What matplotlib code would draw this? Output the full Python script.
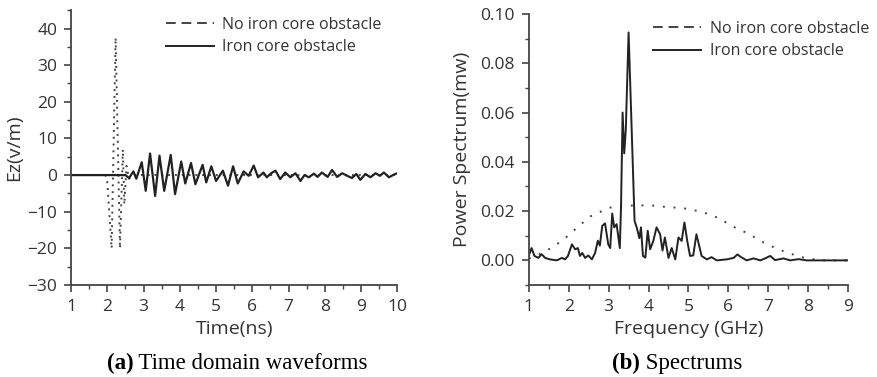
import matplotlib.pyplot as plt
from matplotlib.lines import Line2D
from matplotlib.ticker import MultipleLocator

# (a) time domain, no iron core (pulse)
t_free = [1.0, 1.95, 2.0, 2.12, 2.23, 2.35, 2.43, 2.47, 2.53, 2.6, 2.7, 10.0]
ez_free = [0.0, 0.0, -2.0, -20.0, 37.5, -20.0, 7.0, -8.0, 2.5, -1.0, 0.0, 0.0]

# (a) time domain, iron core obstacle
t_iron = [1.0, 2.5, 2.6, 2.72, 2.8, 2.95, 3.06, 3.18, 3.32, 3.44, 3.57, 3.75, 3.87,
          4.04, 4.15, 4.31, 4.43, 4.63, 4.73, 4.87, 5.0, 5.19, 5.33, 5.47, 5.6,
          5.76, 5.9, 6.04, 6.16, 6.31, 6.4, 6.52, 6.64, 6.77, 6.91, 7.05, 7.19,
          7.33, 7.44, 7.56, 7.7, 7.8, 7.92, 8.08, 8.2, 8.34, 8.48, 8.62, 8.75,
          8.87, 8.98, 9.12, 9.26, 9.4, 9.52, 9.63, 9.77, 9.9, 10.0]
ez_iron = [0.0, 0.0, -0.8, 1.0, -1.0, 3.5, -4.3, 5.9, -5.7, 5.3, -4.3, 5.5, -5.2,
           3.7, -2.3, 3.3, -2.5, 2.8, -2.0, 2.4, -1.6, 1.2, -2.9, 2.4, -2.3,
           1.0, -0.2, 2.6, -0.6, 0.7, -0.6, 0.5, 1.2, -1.1, 0.7, -0.6, 0.5,
           -1.6, 0.0, -0.6, 0.4, -0.5, 0.7, -0.5, 1.4, -0.5, 0.5, -0.2, -0.8,
           0.3, -1.3, 0.3, -0.6, 0.5, -0.2, 0.7, -0.6, 0.1, 0.5]

# (b) spectrum, no iron core
f_free = [1.0, 1.2, 1.43, 1.66, 1.88, 2.1, 2.33, 2.55, 2.78, 2.99, 3.23, 3.45,
          3.7, 3.92, 4.14, 4.36, 4.58, 4.82, 5.04, 5.27, 5.5, 5.72, 5.94, 6.17,
          6.4, 6.62, 6.84, 7.07, 7.3, 7.52, 7.74, 7.96, 8.2, 8.4, 9.0]
p_free = [0.0008, 0.002, 0.0038, 0.0061, 0.0086, 0.0117, 0.015, 0.0179, 0.0196,
          0.0213, 0.0219, 0.0222, 0.0223, 0.0223, 0.0222, 0.0218, 0.0215, 0.0213,
          0.0207, 0.0199, 0.0188, 0.0174, 0.0154, 0.0133, 0.0116, 0.0097, 0.0076,
          0.0058, 0.0042, 0.0029, 0.0018, 0.0008, 0.0003, 0.0, 0.0]

# (b) spectrum, iron core obstacle
f_iron = [1.0, 1.01, 1.07, 1.14, 1.24, 1.32, 1.41, 1.53, 1.7, 1.83, 1.91, 1.98,
          2.08, 2.16, 2.23, 2.28, 2.34, 2.41, 2.49, 2.58, 2.66, 2.73, 2.78, 2.84,
          2.91, 2.99, 3.04, 3.09, 3.14, 3.2, 3.28, 3.31, 3.35, 3.39, 3.43, 3.5,
          3.65, 3.71, 3.77, 3.81, 3.86, 3.92, 3.98, 4.04, 4.12, 4.2, 4.29, 4.35,
          4.41, 4.5, 4.58, 4.67, 4.75, 4.83, 4.9, 4.97, 5.04, 5.12, 5.2, 5.33,
          5.46, 5.58, 5.71, 5.96, 6.13, 6.23, 6.32, 6.46, 6.63, 6.8, 6.92, 7.05,
          7.17, 7.38, 7.55, 7.76, 7.96, 9.0]
p_iron = [0.003, 0.0025, 0.005, 0.0018, 0.001, 0.0025, 0.001, 0.0004, 0.0, 0.001,
          0.0004, 0.0018, 0.0065, 0.0045, 0.005, 0.0018, 0.003, 0.001, 0.002,
          0.0004, 0.003, 0.008, 0.006, 0.014, 0.015, 0.0065, 0.005, 0.019, 0.0134,
          0.0147, 0.005, 0.0215, 0.060, 0.0434, 0.053, 0.0925, 0.016, 0.013, 0.009,
          0.0134, 0.0018, 0.0011, 0.012, 0.0045, 0.0079, 0.0134, 0.0106, 0.004,
          0.0093, 0.001, 0.005, 0.0004, 0.0093, 0.0079, 0.0154, 0.0079, 0.0018,
          0.002, 0.0106, 0.0018, 0.0004, 0.0013, 0.0, 0.0004, 0.001, 0.0024,
          0.0013, 0.0, 0.0008, 0.0, 0.0008, 0.0018, 0.0001, 0.0008, 0.0, 0.0005,
          0.0, 0.0]

legend_labels = ["No iron core obstacle", "Iron core obstacle"]
captions = [("(a)", " Time domain waveforms"), ("(b)", " Spectrums")]

txt = "#333333"
plt.rcParams['font.family'] = ['Open Sans', 'DejaVu Sans']

fig = plt.figure(figsize=(8.77, 3.77), dpi=100)
ax0 = fig.add_axes([0.081, 0.244, 0.372, 0.729])
ax1 = fig.add_axes([0.603, 0.244, 0.364, 0.719])

ax0.plot(t_free, ez_free, color="#444444", lw=1.4, linestyle=(0, (1, 2.5)))
ax0.plot(t_iron, ez_iron, color="#222222", lw=1.6)
ax0.set_xlim(1, 10)
ax0.set_ylim(-30, 45)
ax0.xaxis.set_major_locator(MultipleLocator(1))
ax0.xaxis.set_minor_locator(MultipleLocator(0.5))
ax0.yaxis.set_minor_locator(MultipleLocator(5))
ax0.set_yticks(range(-30, 41, 10))
ax0.set_xlabel("Time(ns)", color=txt, fontsize=14, labelpad=4)
ax0.set_ylabel("Ez(v/m)", color=txt, fontsize=14, labelpad=3)

ax1.plot(f_free, p_free, color="#444444", lw=1.4, linestyle=(0, (1, 4.5)))
ax1.plot(f_iron, p_iron, color="#222222", lw=1.4)
ax1.set_xlim(1, 9)
ax1.set_ylim(-0.01, 0.10)
ax1.xaxis.set_major_locator(MultipleLocator(1))
ax1.xaxis.set_minor_locator(MultipleLocator(0.5))
ax1.yaxis.set_minor_locator(MultipleLocator(0.01))
ax1.set_yticks([0.0, 0.02, 0.04, 0.06, 0.08, 0.10])
ax1.set_yticklabels(["0.00", "0.02", "0.04", "0.06", "0.08", "0.10"])
ax1.set_xlabel("Frequency (GHz)", color=txt, fontsize=14, labelpad=4)
ax1.set_ylabel("Power Spectrum(mw)", color=txt, fontsize=14, labelpad=7)

for ax, anchor in ((ax0, (0.29, 0.975)), (ax1, (0.39, 0.975))):
    ax.spines['top'].set_visible(False)
    ax.spines['right'].set_visible(False)
    ax.spines['left'].set_color("#444444")
    ax.spines['bottom'].set_color("#444444")
    ax.spines['left'].set_linewidth(1.3)
    ax.spines['bottom'].set_linewidth(1.3)
    ax.tick_params(which='major', direction='out', length=5, width=1.2,
                   color="#444444", labelcolor=txt, labelsize=12.5)
    ax.tick_params(axis='x', which='major', pad=5)
    ax.tick_params(axis='y', which='major', pad=5)
    ax.tick_params(which='minor', direction='out', length=3, width=1.0,
                   color="#444444")
    handles = [Line2D([], [], color="#444444", lw=1.4, linestyle=(0, (5, 3))),
               Line2D([], [], color="#222222", lw=1.4)]
    ax.legend(handles, legend_labels, loc='upper left', frameon=False,
              handlelength=3.0, handletextpad=0.55, labelspacing=0.4,
              fontsize=11.5, labelcolor=txt, borderaxespad=0.0, borderpad=0.0,
              bbox_to_anchor=anchor)

for x, (bold, rest) in zip([0.152, 0.73], captions):
    fig.text(x, 0.035, bold, fontsize=16.5, fontweight='bold',
             family='Liberation Serif', ha='right', va='center')
    fig.text(x, 0.035, rest, fontsize=16.5, family='Liberation Serif',
             ha='left', va='center')

fig.savefig("out.png", dpi=100)
